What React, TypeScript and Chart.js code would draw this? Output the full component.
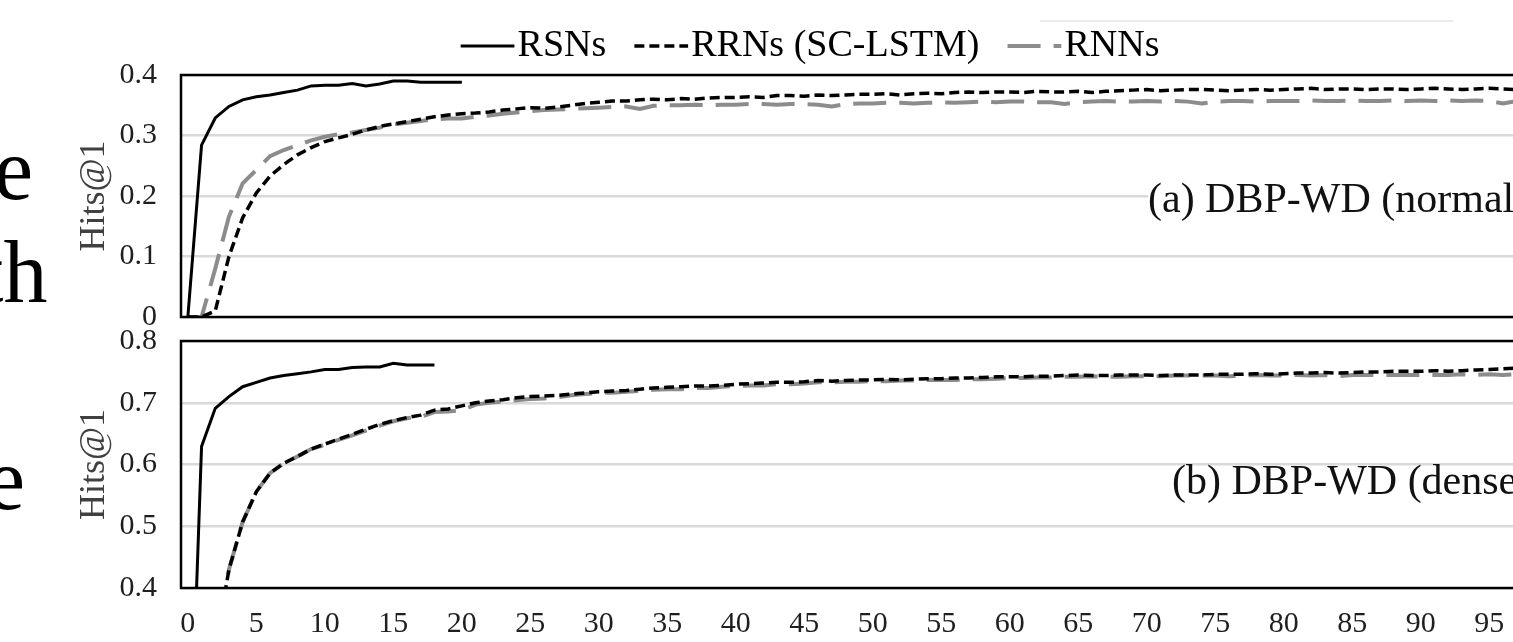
import React, { useEffect, useRef } from 'react';
import { Chart, registerables } from 'chart.js';

Chart.register(...registerables);

// ---------- data ----------
const EPOCHS: string[] = Array.from({ length: 100 }, (_, i) => String(i));
const X_TICK_LABELS = ['0', '5', '10', '15', '20', '25', '30', '35', '40', '45', '50', '55', '60', '65', '70', '75', '80', '85', '90', '95'];
const SERIES_NAMES = ['RSNs', 'RRNs (SC-LSTM)', 'RNNs'];
const Y_TITLE = 'Hits@1';
const TOP_Y_RANGE = [0, 0.4];
const BOTTOM_Y_RANGE = [0.4, 0.8];
const TOP_NOTE = '(a) DBP-WD (normal)';
const BOTTOM_NOTE = '(b) DBP-WD (dense)';

// (a) DBP-WD (normal)
const TOP_RSNS = [0, 0.284, 0.329, 0.348, 0.359, 0.364, 0.367, 0.371, 0.375, 0.382, 0.383, 0.383, 0.386, 0.382, 0.385, 0.390, 0.390, 0.388, 0.388, 0.388, 0.388];
const TOP_RRNS = [
  0, 0, 0.01, 0.10, 0.164, 0.205, 0.233, 0.252, 0.268, 0.280,
  0.290, 0.296, 0.302, 0.309, 0.315, 0.319, 0.323, 0.327, 0.331, 0.334,
  0.336, 0.337, 0.339, 0.342, 0.344, 0.346, 0.345, 0.347, 0.350, 0.353,
  0.355, 0.357, 0.357, 0.359, 0.360, 0.359, 0.361, 0.360, 0.362, 0.363,
  0.363, 0.364, 0.363, 0.366, 0.366, 0.365, 0.367, 0.366, 0.367, 0.368,
  0.368, 0.369, 0.367, 0.369, 0.370, 0.369, 0.371, 0.372, 0.371, 0.372,
  0.372, 0.371, 0.373, 0.372, 0.372, 0.373, 0.371, 0.373, 0.374, 0.375,
  0.376, 0.374, 0.375, 0.376, 0.376, 0.375, 0.374, 0.375, 0.376, 0.375,
  0.376, 0.377, 0.378, 0.376, 0.377, 0.377, 0.376, 0.377, 0.377, 0.376,
  0.377, 0.378, 0.377, 0.376, 0.377, 0.378, 0.377, 0.376, 0.377, 0.377,
];
const TOP_RNNS = [
  0, 0, 0.08, 0.166, 0.221, 0.243, 0.266, 0.276, 0.284, 0.292,
  0.298, 0.302, 0.305, 0.309, 0.313, 0.318, 0.321, 0.324, 0.327, 0.328,
  0.328, 0.331, 0.333, 0.336, 0.338, 0.340, 0.342, 0.343, 0.344, 0.345,
  0.346, 0.347, 0.348, 0.344, 0.349, 0.350, 0.350, 0.351, 0.350, 0.351,
  0.351, 0.352, 0.352, 0.351, 0.352, 0.352, 0.351, 0.348, 0.352, 0.353,
  0.353, 0.354, 0.354, 0.353, 0.354, 0.355, 0.354, 0.355, 0.356, 0.355,
  0.356, 0.356, 0.355, 0.355, 0.352, 0.355, 0.356, 0.357, 0.356, 0.356,
  0.357, 0.356, 0.357, 0.356, 0.353, 0.356, 0.357, 0.357, 0.356, 0.357,
  0.357, 0.357, 0.358, 0.357, 0.357, 0.358, 0.357, 0.357, 0.358, 0.357,
  0.358, 0.357, 0.358, 0.357, 0.358, 0.357, 0.353, 0.357, 0.357, 0.357,
];

// (b) DBP-WD (dense)
const BOTTOM_RSNS = [0, 0.629, 0.691, 0.710, 0.726, 0.733, 0.740, 0.744, 0.747, 0.750, 0.754, 0.754, 0.757, 0.758, 0.758, 0.764, 0.761, 0.761, 0.761];
const BOTTOM_RRNS = [
  0, 0, 0.30, 0.43, 0.507, 0.556, 0.586, 0.602, 0.613, 0.625,
  0.633, 0.641, 0.649, 0.657, 0.665, 0.671, 0.676, 0.680, 0.688, 0.690,
  0.695, 0.700, 0.703, 0.705, 0.708, 0.710, 0.711, 0.712, 0.714, 0.716,
  0.718, 0.719, 0.720, 0.722, 0.724, 0.725, 0.726, 0.727, 0.727, 0.728,
  0.730, 0.731, 0.732, 0.733, 0.733, 0.734, 0.736, 0.735, 0.736, 0.737,
  0.737, 0.738, 0.737, 0.738, 0.739, 0.739, 0.740, 0.740, 0.741, 0.742,
  0.742, 0.742, 0.743, 0.743, 0.744, 0.745, 0.744, 0.744, 0.745, 0.745,
  0.745, 0.744, 0.745, 0.745, 0.745, 0.746, 0.746, 0.746, 0.747, 0.746,
  0.747, 0.748, 0.748, 0.749, 0.748, 0.749, 0.750, 0.750, 0.751, 0.751,
  0.751, 0.752, 0.751, 0.752, 0.753, 0.754, 0.755, 0.756, 0.756, 0.757,
];
const BOTTOM_RNNS = [
  0, 0, 0.30, 0.43, 0.507, 0.556, 0.586, 0.602, 0.613, 0.625,
  0.632, 0.640, 0.647, 0.655, 0.663, 0.670, 0.675, 0.677, 0.685, 0.686,
  0.688, 0.697, 0.700, 0.702, 0.704, 0.706, 0.707, 0.709, 0.712, 0.714,
  0.716, 0.716, 0.718, 0.719, 0.721, 0.722, 0.722, 0.724, 0.724, 0.726,
  0.727, 0.728, 0.728, 0.730, 0.730, 0.731, 0.733, 0.733, 0.734, 0.734,
  0.735, 0.735, 0.736, 0.736, 0.737, 0.737, 0.737, 0.738, 0.738, 0.739,
  0.740, 0.740, 0.741, 0.741, 0.742, 0.742, 0.743, 0.742, 0.742, 0.743,
  0.743, 0.743, 0.744, 0.744, 0.744, 0.744, 0.743, 0.744, 0.745, 0.744,
  0.744, 0.745, 0.744, 0.745, 0.743, 0.745, 0.745, 0.745, 0.745, 0.745,
  0.745, 0.745, 0.745, 0.746, 0.745, 0.746, 0.745, 0.746, 0.746, 0.746,
];

// ---------- styling ----------
const FONT = "'Liberation Serif', 'Times New Roman', Times, serif";
const CANVAS_W = 1560;
const GRAY = '#8c8c8c';
const TICK_SIZE = 30;

const framePlugin = {
  id: 'frame',
  afterDatasetsDraw(chart: any) {
    const { ctx, chartArea: a } = chart;
    ctx.save();
    ctx.strokeStyle = '#000';
    ctx.lineWidth = 2.5;
    ctx.strokeRect(a.left, a.top, a.right - a.left, a.bottom - a.top);
    ctx.restore();
  },
};

function makeDatasets(rsns: number[], rrns: number[], rnns: number[]) {
  return [
    { label: SERIES_NAMES[0], data: rsns, borderColor: '#000', backgroundColor: '#000', borderWidth: 3, borderDash: [], pointRadius: 0, tension: 0 },
    { label: SERIES_NAMES[1], data: rrns, borderColor: '#000', backgroundColor: '#000', borderWidth: 3.5, borderDash: [10, 5], pointRadius: 0, tension: 0 },
    { label: SERIES_NAMES[2], data: rnns, borderColor: GRAY, backgroundColor: GRAY, borderWidth: 4, borderDash: [33, 13], pointRadius: 0, tension: 0 },
  ];
}

function yAxis(range: number[]) {
  return {
    min: range[0],
    max: range[1],
    afterFit(scale: any) {
      scale.width = 96;
    },
    grid: { color: '#d9d9d9', lineWidth: 2.5, drawTicks: true, tickLength: 24, tickColor: 'rgba(0,0,0,0)' },
    border: { display: false },
    ticks: { stepSize: 0.1, padding: 0, color: '#1f1f1f', font: { family: FONT, size: TICK_SIZE } },
    title: {
      display: true,
      text: Y_TITLE,
      color: '#404040',
      font: { family: FONT, size: 36, lineHeight: 0.5 },
      padding: { top: 1, bottom: 0 },
    },
  };
}

function ChartCanvas({ config, top, height }: { config: any; top: number; height: number }) {
  const ref = useRef<HTMLCanvasElement | null>(null);
  useEffect(() => {
    if (!ref.current) return;
    const chart = new Chart(ref.current, config);
    return () => chart.destroy();
  }, []);
  return (
    <div style={{ position: 'absolute', left: 0, top, width: CANVAS_W, height }}>
      <canvas ref={ref} width={CANVAS_W} height={height} style={{ width: CANVAS_W, height, display: 'block' }} />
    </div>
  );
}

const topConfig = {
  type: 'line',
  data: { labels: EPOCHS, datasets: makeDatasets(TOP_RSNS, TOP_RRNS, TOP_RNNS) },
  options: {
    responsive: false,
    animation: false,
    layout: { padding: { left: 85, right: 9, top: 0, bottom: 0 } },
    plugins: {
      legend: {
        display: true,
        position: 'top',
        labels: {
          usePointStyle: true,
          pointStyle: 'line',
          boxWidth: 22,
          boxHeight: 38,
          padding: 44,
          color: '#000',
          font: { family: FONT, size: 38 },
          generateLabels: (chart: any) => {
            const base = (Chart.defaults as any).plugins.legend.labels.generateLabels(chart);
            return base.map((item: any, i: number) => {
              const ds = chart.data.datasets[i];
              return {
                ...item,
                pointStyle: 'line',
                lineDash: ds.borderDash || [],
                lineWidth: ds.borderWidth,
                strokeStyle: ds.borderColor,
                fillStyle: ds.borderColor,
                fontColor: '#000',
              };
            });
          },
        },
      },
      tooltip: { enabled: false },
    },
    scales: {
      x: { type: 'category', display: false, offset: true },
      y: yAxis(TOP_Y_RANGE),
    },
  },
  plugins: [framePlugin],
};

const bottomConfig = {
  type: 'line',
  data: { labels: EPOCHS, datasets: makeDatasets(BOTTOM_RSNS, BOTTOM_RRNS, BOTTOM_RNNS) },
  options: {
    responsive: false,
    animation: false,
    layout: { padding: { left: 85, right: 9, top: 0, bottom: 0 } },
    plugins: { legend: { display: false }, tooltip: { enabled: false } },
    scales: {
      x: {
        type: 'category',
        offset: true,
        grid: { display: false, drawTicks: false },
        border: { display: false },
        ticks: {
          autoSkip: false,
          maxRotation: 0,
          minRotation: 0,
          padding: 18,
          color: '#1f1f1f',
          font: { family: FONT, size: TICK_SIZE },
          callback: (_v: any, i: number) => (X_TICK_LABELS.includes(EPOCHS[i]) ? EPOCHS[i] : null),
        },
      },
      y: yAxis(BOTTOM_Y_RANGE),
    },
  },
  plugins: [framePlugin],
};

const bodyText: React.CSSProperties = {
  position: 'absolute',
  fontFamily: FONT,
  fontSize: 88,
  lineHeight: '88px',
  color: '#000',
  whiteSpace: 'nowrap',
};

const noteText: React.CSSProperties = {
  position: 'absolute',
  fontFamily: FONT,
  fontSize: 42,
  lineHeight: '42px',
  color: '#111',
  whiteSpace: 'nowrap',
};

export default function App() {
  return (
    <div style={{ position: 'absolute', left: 0, top: 0, width: 1513, height: 642, overflow: 'hidden', background: '#fff' }}>
      <ChartCanvas config={topConfig} top={-17} height={352} />
      <ChartCanvas config={bottomConfig} top={323} height={337} />
      <div style={{ ...bodyText, left: -6, top: 126 }}>e</div>
      <div style={{ ...bodyText, left: -21, top: 229 }}>th</div>
      <div style={{ ...bodyText, left: -14, top: 436 }}>e</div>
      <div style={{ ...noteText, left: 1148, top: 177, background: '#fff' }}>{TOP_NOTE}</div>
      <div style={{ ...noteText, left: 1172, top: 459 }}>{BOTTOM_NOTE}</div>
      <div style={{ position: 'absolute', left: 1040, top: 20, width: 413, height: 2, background: '#ececec' }} />
    </div>
  );
}
